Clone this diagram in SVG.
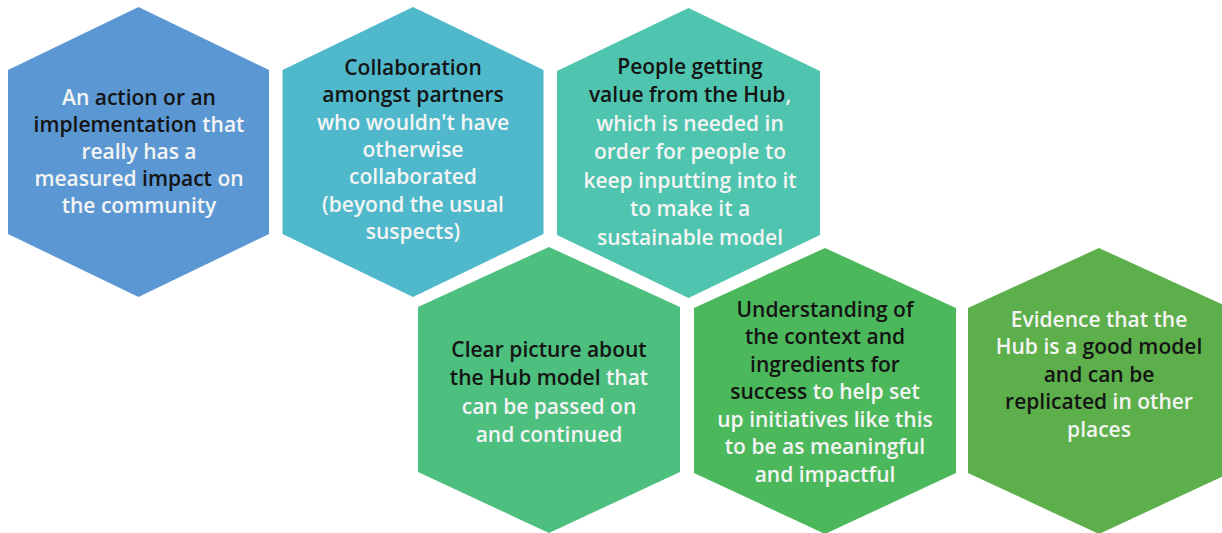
<svg xmlns="http://www.w3.org/2000/svg" width="1222" height="533" viewBox="0 0 1222 533">
<style>
text{font-family:"Open Sans","Liberation Sans",sans-serif;font-size:21px;font-weight:600;text-anchor:middle;fill:#f4f4f4}
.d{fill:#141414}
</style>
<rect width="1222" height="533" fill="#ffffff"/>
<g id="hex1">
<polygon points="138.5,7 269,70 269,234 138.5,297 8,234 8,70" fill="#5b98d3"/>
<text x="139" y="105">An <tspan class="d">action or an</tspan></text>
<text x="139" y="132"><tspan class="d">implementation</tspan> that</text>
<text x="139" y="159">really has a</text>
<text x="139" y="186">measured <tspan class="d">impact</tspan> on</text>
<text x="139" y="213">the community</text>
</g>
<g id="hex2">
<polygon points="413,7 543.5,70 543.5,234 413,297 282.5,234 282.5,70" fill="#4fb9cb"/>
<text x="413" y="75" class="d">Collaboration</text>
<text x="413" y="102" class="d">amongst partners</text>
<text x="413" y="130">who wouldn't have</text>
<text x="413" y="157">otherwise</text>
<text x="413" y="184">collaborated</text>
<text x="413" y="212">(beyond the usual</text>
<text x="413" y="239">suspects)</text>
</g>
<g id="hex3">
<polygon points="688.5,8 820,71 820,235 688.5,298 557,235 557,71" fill="#4fc4ae"/>
<text x="690" y="74" class="d">People getting</text>
<text x="690" y="102"><tspan class="d">value from the Hub</tspan>,</text>
<text x="690" y="131">which is needed in</text>
<text x="690" y="159">order for people to</text>
<text x="690" y="188">keep inputting into it</text>
<text x="690" y="216">to make it a</text>
<text x="690" y="245">sustainable model</text>
</g>
<g id="hex4">
<polygon points="549,247 680,307 680,472 549,533 418,472 418,307" fill="#4dbf7f"/>
<text x="549" y="357" class="d">Clear picture about</text>
<text x="549" y="385"><tspan class="d">the Hub model</tspan> that</text>
<text x="549" y="414">can be passed on</text>
<text x="549" y="442">and continued</text>
</g>
<g id="hex5">
<polygon points="825,248 956,308 956,473 825,534 694,473 694,308" fill="#4cb85c"/>
<text x="825" y="317" class="d">Understanding of</text>
<text x="825" y="344" class="d">the context and</text>
<text x="825" y="372" class="d">ingredients for</text>
<text x="825" y="399"><tspan class="d">success</tspan> to help set</text>
<text x="825" y="427">up initiatives like this</text>
<text x="825" y="454">to be as meaningful</text>
<text x="825" y="482">and impactful</text>
</g>
<g id="hex6">
<polygon points="1099,248 1230,308 1230,473 1099,534 968,473 968,308" fill="#5daf4b"/>
<text x="1099" y="327">Evidence that the</text>
<text x="1099" y="354">Hub is a <tspan class="d">good model</tspan></text>
<text x="1099" y="382" class="d">and can be</text>
<text x="1099" y="409"><tspan class="d">replicated</tspan> in other</text>
<text x="1099" y="437">places</text>
</g>
<g id="connectors"/>
</svg>
